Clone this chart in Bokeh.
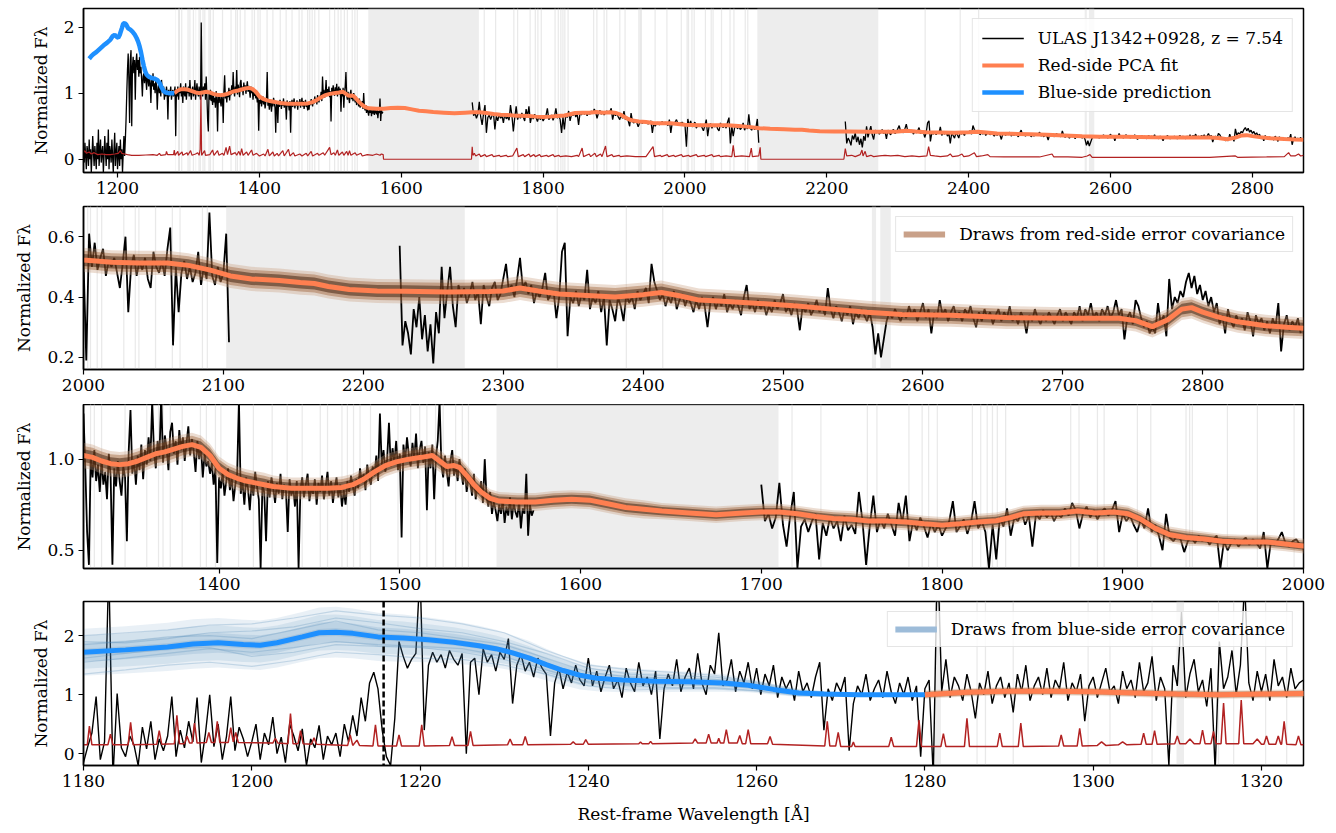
import numpy as np
from bokeh.plotting import figure
from bokeh.layouts import column
from bokeh.models import Range1d, FixedTicker, PrintfTickFormatter, Legend, LegendItem, Span
from bokeh.embed import file_html
from bokeh.resources import INLINE

# ----------------------------------------------------------------- data
# overview spectrum blueward of 1325 A as seen in the top panel (1 A bins)
ov_start, ov_step = 1152.0, 1.0
ov_flux = [
    0.1, -0.05, 0.25, 0.05, -0.15, 0.2, 0.1, -0.1, 0.3, 0.0,
    0.15, -0.2, 0.05, 0.35, 0.1, -0.1, 0.2, 0.05, -0.15, 0.25,
    0.0, 0.45, -0.1, 0.15, 0.3, -0.05, 0.1, 0.2, -0.2, 0.05,
    0.35, 0.1, -0.1, 0.25, 0.0, 0.45, -0.15, 0.2, 0.1, -0.05,
    0.3, 0.05, -0.2, 0.15, 0.4, -0.1, 0.1, 0.25, -0.15, 0.05,
    0.2, -0.1, 0.3, 0.0, 0.15, -0.2, 0.1, 0.35, 0.05, 0.3,
    0.6, 1.0, 1.35, 1.6, 1.2, 0.55, 1.5, 1.65, 0.5, 1.4, 1.55, 1.3, 1.5, 0.9, 1.45, 1.6,
    1.35, 1.5, 1.25, 1.55, 1.3, 1.4, 1.2, 0.95,
    1.25, 1.3, 1.15, 1.35, 1.2, 1.05, 1.3, 1.2, 1.1, 1.25, 1.15, 0.85, 1.2, 1.1, 1.3, 1.05,
    1.15, 1.0, 1.2, 1.1, 0.75, 1.05, 1.15, 1.0, 1.1, 0.95, 1.2, 1.05, 1.0, 1.1, 0.9, 1.05,
    0.95, 1.1, 1.0, 0.6, 1.05, 0.95, 1.0, 1.1, 0.9, 1.0, 1.05, 0.95,
    1.0, 1.1, 0.35, 1.05, 0.95, 1.1, 0.9, 1.05, 1.0, 1.15, 0.95, 1.05, 0.85, 1.1, 1.0, 0.95,
    1.15, 0.9, 1.05, 1.0, 1.1, 0.95, 1.2, 1.0, 0.9, 1.05, 1.1, 0.95, 1.0, 1.2, 0.9, 1.05,
    1.15, 1.0, 0.95, 1.1, 1.0, 0.9, 2.07, 1.05, 0.95, 1.1, 1.0, 1.15, 0.9]

# native-resolution spectrum 1180-1325 A (bottom panel)
seg2_start, seg2_step = 1180.0, 0.5
seg2_flux = [
    -0.15, 0.12, 0.35, 0.97, -0.1, 0.2, 3.2, -0.4, 1.02, 0.1, -0.05, 0.3, 0.15, -0.2, 0.45, 0.08, 0.55, -0.1, 0.25, 0.05,
    0.3, 0.97, -0.05, 0.4, 0.1, 0.55, 0.2, 0.95, -0.15, 0.35, 1.0, 0.12, 0.5, -0.1, 0.3, 0.97, 0.05, 0.45, 0.25, -0.05,
    0.2, 0.5, -0.1, 0.35, 0.15, 0.62, 0.0, 0.28, -0.15, 0.5, 0.3, 0.05, 0.42, -0.2, 0.25, 0.1, 0.48, -0.1, 0.3, 0.15,
    0.35, -0.05, 0.5, 0.2, 0.65, 0.3, 0.95, 0.55, 1.2, 1.38, 1.1, 0.4, -0.05, -0.2, 0.6, 1.9, 1.65, 1.45, 1.6, 1.7,
    3.1, 0.4, 1.5, 1.72, 1.55, 1.68, 1.45, 1.75, 1.6, 1.5, 1.7, 0.0, 1.55, 1.62, 1.0, 1.78, 1.55, 1.68, 1.4, 1.72,
    1.6, 1.95, 0.85, 1.5, 1.68, 1.4, 1.55, 1.3, 1.62, 1.45, 1.35, 0.3, 1.2, 1.45, 1.1, 1.38, 1.2, 1.5, 1.25, 1.15,
    1.62, 1.15, 1.4, 1.05, 1.3, 1.5, 1.1, 1.25, 0.95, 1.45, 1.2, 1.05, 1.55, 1.15, 1.3, 1.0, 1.4, 0.25, 1.1, 1.35,
    1.15, 1.6, 1.05, 1.3, 1.45, 1.1, 1.7, 1.2, 1.0, 1.5, 1.35, 2.05, 1.15, 1.25, 1.6, 1.05, 1.4, 1.2, 1.55, 1.1,
    1.45, 1.0, 1.35, 1.15, 1.5, 0.95, 1.3, 1.1, 1.25, 0.9, 1.4, 1.05, 1.2, 0.95, 1.3, 1.55, 0.4, 1.1, 0.9, 1.2,
    1.05, 1.3, 0.05, 0.85, 1.15, 1.0, 1.35, 0.9, 1.1, 1.25, 0.95, 1.4, 1.05, 0.85, 1.2, 1.0, 1.3, 0.9, 1.15, -0.05,
    1.1, 1.25, -0.4, 3.5, 1.05, 1.6, 0.95, 1.3, 1.15, 0.9, 1.35, 1.05, 0.6, 1.2, 1.0, 1.4, 0.85, 1.15, 1.3, 0.95,
    1.2, 0.7, 1.35, 1.05, 1.5, 0.9, 1.15, 1.3, 1.0, 1.45, 0.95, 1.25, 1.1, 1.55, 0.9, 1.2, 1.05, 1.35, 0.55, 1.15,
    1.3, 0.95, 1.2, 1.45, 1.05, 1.15, 0.85, 1.4, 1.1, 1.25, 0.95, 1.55, 1.05, 1.2, 1.65, 0.9, 1.3, 1.1, -0.2, 1.5,
    1.15, 2.4, 0.95, 1.35, 1.6, 1.05, 1.25, 0.8, 1.45, -0.3, 1.9, 1.1, 1.3, 1.75, 1.0, 1.5, 2.9, 1.2, 0.9, 1.4,
    1.05, 1.35, 0.9, 1.6, 1.15, 1.3, 0.95, 1.45, 1.1, 1.2]

seg3_start, seg3_step = 1325.0, 1.0
seg3_flux = [
    1.25, 0.95, 0.6, 0.42, 1.02, 0.9, 1.05, 0.88, 0.97, 0.82,
    1.0, 0.86, 0.93, 0.78, 1.03, 0.91, 0.42, 0.95, 0.85, 0.99,
    0.88, 0.8, 0.96, 0.9, 0.55, 1.04, 1.27, 0.92, 1.0, 0.86,
    1.02, 0.94, 1.08, 0.89, 1.05, 0.97, 1.12, 0.99, 1.32, 1.04,
    0.95, 1.1, 1.01, 1.35, 0.98, 1.13, 1.06, 0.94, 1.15, 1.2,
    1.03, 1.1, 0.97, 1.16, 1.05, 1.12, 0.99, 1.09, 1.18, 1.02,
    1.11, 1.04, 0.93, 1.1, 1.0, 1.07, 0.9, 1.03, 0.96, 0.99,
    0.92, 0.98, 0.86, 0.95, 0.43, 0.9, 0.84, 0.93, 0.8, 0.88,
    0.95, 0.83, 0.9, 0.77, 0.86, 0.92, 1.32, 0.81, 0.88, 0.75,
    0.9, 0.84, 0.72, 0.87, 0.8, 0.93, 0.85, 0.78, 0.4, 0.86,
    0.82, 0.55, 0.88, 0.79, 0.9, 0.84, 0.76, 0.87, 0.81, 0.92,
    0.78, 0.86, 0.83, 0.6, 0.89, 0.8, 0.85, 0.74, 0.88, 0.4,
    0.83, 0.9, 0.79, 0.86, 0.92, 0.77, 0.84, 0.81, 0.89, 0.75,
    0.87, 0.82, 0.91, 0.78, 0.85, 0.93, 0.8, 0.88, 0.76, 0.84,
    0.9, 0.79, 0.86, 0.74, 0.83, 0.75, 0.88, 0.82, 0.91, 0.85,
    0.8, 0.89, 0.84, 0.95, 0.87, 0.92, 0.83, 0.97, 0.9, 0.86,
    0.96, 0.91, 1.02, 0.88, 1.25, 0.97, 1.05, 0.93, 1.0, 1.2,
    0.96, 1.06, 0.98, 1.1, 0.94, 1.03, 0.57, 1.08, 0.99, 1.12,
    1.02, 0.96, 1.09, 1.0, 1.14, 0.95, 1.05, 1.1, 0.98, 1.07,
    0.72, 1.04, 0.95, 1.08, 0.78, 1.01, 1.1, 1.32, 0.97, 0.9,
    1.02, 0.93, 0.85, 0.99, 1.05, 0.91, 0.97, 0.88, 1.0, 0.93,
    0.86, 0.95, 0.82, 0.9, 0.87, 0.8, 0.92, 0.78, 0.85, 0.81,
    0.88, 0.76, 1.0, 0.79, 0.74, 0.82, 0.7, 0.77, 0.72, 0.66,
    0.75, 0.7, 0.78, 0.65, 0.74, 0.69, 0.79, 0.67, 0.76, 0.71,
    0.68, 0.77, 0.62, 0.73, 0.7, 0.92, 0.58, 0.75, 0.69, 0.72]

seg4_start, seg4_step = 1700.0, 2.0
seg4_flux = [
    0.86, 0.66, 0.7, 0.62, 0.68, 0.87, 0.64, 0.52, 0.69, 0.82,
    0.4, 0.63, 0.67, 0.6, 0.66, 0.7, 0.45, 0.65, 0.58, 0.68,
    0.62, 0.66, 0.55, 0.69, 0.61, 0.64, 0.59, 0.82, 0.66, 0.42,
    0.63, 0.8, 0.6, 0.67, 0.62, 0.7, 0.64, 0.58, 0.76, 0.65,
    0.8, 0.55, 0.66, 0.61, 0.68, 0.63, 0.57, 0.65, 0.6, 0.64,
    0.58, 0.62, 0.66, 0.77, 0.6, 0.63, 0.67, 0.59, 0.65, 0.77,
    0.62, 0.66, 0.6, 0.4, 0.64, 0.45, 0.68, 0.63, 0.73, 0.58,
    0.68, 0.66, 0.71, 0.64, 0.69, 0.52, 0.7, 0.67, 0.72, 0.68,
    0.71, 0.66, 0.7, 0.68, 0.73, 0.69, 0.76, 0.72, 0.62, 0.7,
    0.74, 0.68, 0.72, 0.67, 0.71, 0.73, 0.69, 0.72, 0.77, 0.6,
    0.7, 0.66, 0.69, 0.64, 0.6, 0.67, 0.62, 0.73, 0.6, 0.64,
    0.58, 0.5, 0.7, 0.57, 0.55, 0.58, 0.56, 0.49, 0.55, 0.57,
    0.54, 0.58, 0.55, 0.57, 0.53, 0.56, 0.58, 0.4, 0.55, 0.5,
    0.54, 0.56, 0.52, 0.55, 0.57, 0.53, 0.56, 0.54, 0.51, 0.6,
    0.4, 0.55, 0.53, 0.56, 0.6, 0.54, 0.52, 0.55, 0.56, 0.53,
    0.52, 0.19, 0.61, 0.5, 0.58, 0.49, 0.53, 0.56, 0.47, 0.52,
    0.5, 0.53, 0.48, 0.43, 0.51, 0.6, 0.35, 0.5, 0.54, 0.47,
    0.52, 0.49, 0.53, 0.46, 0.43, 0.55, 0.5, 0.48, 0.52, 0.47,
    0.56, 0.63, 0.24, 0.5, 0.35, 0.48, 0.52, 0.46, 0.5, 0.45,
    0.48, 0.55, 0.44, 0.5, 0.46, 0.68, 0.47, 0.44, 0.5, 0.45,
    0.48, 0.61, 0.25]

seg5_start, seg5_step = 2226.0, 2.0
seg5_flux = [
    0.57, 0.24, 0.32, 0.28, 0.21, 0.36, 0.3, 0.4, 0.26, 0.34,
    0.22, 0.31, 0.18, 0.35, 0.28, 0.5, 0.33, 0.42, 0.5, 0.37,
    0.3, 0.44, 0.4, 0.43, 0.38, 0.41, 0.45, 0.39, 0.42, 0.31,
    0.44, 0.4, 0.37, 0.43, 0.45, 0.39, 0.41, 0.46, 0.51, 0.42,
    0.44, 0.4, 0.46, 0.53, 0.43, 0.45, 0.41, 0.44, 0.38, 0.42,
    0.4, 0.43, 0.48, 0.39, 0.41, 0.42, 0.33, 0.4, 0.55, 0.58,
    0.27, 0.4, 0.38, 0.42, 0.37, 0.41, 0.39, 0.49, 0.36, 0.4,
    0.38, 0.42, 0.35, 0.4, 0.24, 0.39, 0.36, 0.32, 0.4, 0.37,
    0.32, 0.41, 0.38, 0.4, 0.36, 0.42, 0.39, 0.41, 0.43, 0.38,
    0.51, 0.45, 0.42, 0.39, 0.41, 0.37, 0.4, 0.38, 0.42, 0.36,
    0.39, 0.41, 0.37, 0.4, 0.38, 0.35, 0.39, 0.36, 0.4, 0.37,
    0.3, 0.38, 0.4, 0.36, 0.39, 0.37, 0.41, 0.35, 0.38, 0.36,
    0.39, 0.37, 0.34, 0.4, 0.44, 0.36, 0.38, 0.35, 0.39, 0.36,
    0.38, 0.34, 0.37, 0.35, 0.39, 0.36, 0.38, 0.41, 0.35, 0.37,
    0.34, 0.38, 0.36, 0.29, 0.37, 0.35, 0.38, 0.34, 0.36, 0.39,
    0.35, 0.37, 0.34, 0.43, 0.36, 0.33, 0.37, 0.35, 0.32, 0.36,
    0.34, 0.37, 0.31, 0.35, 0.33, 0.36, 0.34, 0.32, 0.35, 0.3,
    0.21, 0.28, 0.2, 0.26, 0.32, 0.35, 0.33, 0.36, 0.34, 0.32,
    0.35, 0.33, 0.37, 0.34, 0.36, 0.32, 0.35, 0.38, 0.33, 0.36,
    0.28, 0.35, 0.33, 0.39, 0.34, 0.36, 0.32, 0.35, 0.37, 0.33,
    0.35, 0.32, 0.36, 0.34, 0.37, 0.33, 0.3, 0.35, 0.32, 0.36,
    0.33, 0.35, 0.31, 0.34, 0.36, 0.32, 0.35, 0.33, 0.37, 0.32,
    0.34, 0.31, 0.35, 0.33, 0.28, 0.34, 0.32, 0.36, 0.33, 0.31,
    0.34, 0.32, 0.35, 0.33, 0.31, 0.34, 0.36, 0.32, 0.35, 0.33,
    0.31, 0.35, 0.33, 0.37, 0.32, 0.36, 0.34, 0.38, 0.33, 0.35,
    0.32, 0.36, 0.34, 0.37, 0.33, 0.35, 0.39, 0.34, 0.36, 0.26,
    0.33, 0.35, 0.31, 0.39, 0.37, 0.33, 0.3, 0.32, 0.28, 0.3,
    0.28, 0.38, 0.31, 0.34, 0.27, 0.46, 0.36, 0.4, 0.38, 0.42,
    0.4, 0.45, 0.48, 0.43, 0.47, 0.41, 0.44, 0.39, 0.42, 0.37,
    0.4, 0.35, 0.38, 0.31, 0.34, 0.28, 0.36, 0.32, 0.3, 0.34,
    0.31, 0.33, 0.29, 0.35, 0.32, 0.27, 0.34, 0.31, 0.33, 0.29,
    0.32, 0.28, 0.33, 0.3, 0.38, 0.22, 0.31, 0.34, 0.29, 0.32,
    0.3, 0.33, 0.28]

# flux error (smoothed, full range; zero inside the spectral gaps)
err_wave = [1152, 1154, 1156, 1160, 1163, 1167, 1172, 1178, 1184, 1190, 1196, 1201, 1204, 1206, 1210, 1214,
            1220, 1230, 1240, 1250, 1256, 1259, 1261, 1268, 1269, 1270.5, 1279, 1280, 1281, 1285, 1286,
            1291, 1292, 1298, 1299, 1303, 1305, 1310, 1313, 1315, 1316.5, 1317.6, 1318.5, 1322.7, 1324,
            1330, 1334, 1336, 1341, 1343, 1348, 1350, 1353, 1355, 1358, 1360, 1366, 1368, 1371, 1373, 1375,
            1377, 1382, 1384, 1389, 1391, 1396, 1400, 1406, 1408, 1412, 1414, 1419, 1421, 1425, 1427, 1433,
            1435, 1441, 1443, 1448, 1450, 1457, 1460, 1466, 1468, 1473, 1475, 1482, 1484, 1490, 1492, 1499,
            1501, 1505, 1507, 1510, 1512, 1517, 1519, 1523, 1525, 1527, 1529, 1535, 1537, 1543, 1545, 1552,
            1560, 1565, 1570, 1572, 1574.5, 1575, 1699, 1700, 1701, 1703, 1705, 1710, 1712, 1718, 1720, 1728,
            1730, 1738, 1740, 1748, 1750, 1757, 1763, 1765, 1772, 1774, 1780, 1782, 1787, 1789, 1795, 1797,
            1805, 1807, 1814, 1816, 1822, 1824, 1832, 1840, 1848, 1850, 1855, 1857, 1865, 1867, 1873, 1875,
            1881, 1883, 1888, 1890, 1897, 1899, 1907, 1909, 1918, 1930, 1945, 1955, 1957, 1965, 1967, 1975,
            1977, 1984, 1986, 1995, 1997, 2005, 2007, 2016, 2018, 2027, 2029, 2038, 2040, 2048, 2050, 2058,
            2066, 2068, 2070, 2080, 2091, 2093.5, 2095, 2104, 2106, 2107, 2224, 2226, 2228, 2235, 2240, 2247,
            2249.5, 2251, 2254, 2256, 2262, 2266, 2274, 2282, 2290, 2300, 2310, 2320, 2330, 2341, 2343.5,
            2346, 2352, 2360, 2370, 2374, 2377, 2385, 2390.5, 2393, 2400, 2408, 2411, 2418, 2427, 2430, 2450,
            2480, 2500, 2517.5, 2520, 2540, 2560, 2567, 2571, 2574, 2600, 2650, 2700, 2740, 2776, 2779, 2820,
            2845, 2851, 2854, 2860, 2865, 2868, 2872]
err_flux = [0.10, 0.13, 0.09, 0.11, 0.08, 0.10, 0.07, 0.08, 0.07, 0.07, 0.08, 0.09, 0.13, 0.09, 0.08, 0.07,
            0.06, 0.06, 0.065, 0.07, 0.06, 0.09, 0.06, 0.07, 0.12, 0.07, 0.07, 0.14, 0.06, 0.12, 0.06,
            0.11, 0.06, 0.10, 0.06, 0.13, 0.06, 0.08, 0.10, 0.06, 0.15, 0.97, 0.06, 0.13, 0.06,
            0.07, 0.14, 0.06, 0.13, 0.06, 0.09, 0.06, 0.18, 0.07, 0.20, 0.07, 0.10, 0.06, 0.12, 0.06, 0.16,
            0.06, 0.11, 0.06, 0.14, 0.06, 0.09, 0.05, 0.08, 0.05, 0.15, 0.05, 0.11, 0.05, 0.09, 0.05, 0.13,
            0.05, 0.15, 0.05, 0.10, 0.05, 0.08, 0.05, 0.09, 0.05, 0.12, 0.05, 0.09, 0.06, 0.10, 0.06, 0.18,
            0.07, 0.10, 0.06, 0.14, 0.06, 0.11, 0.06, 0.12, 0.06, 0.13, 0.06, 0.10, 0.06, 0.09, 0.05, 0.07,
            0.06, 0.08, 0.06, 0.08, 0.07, 0.0, 0.0, 0.19, 0.06, 0.09, 0.05, 0.08, 0.04, 0.07, 0.04, 0.07,
            0.04, 0.06, 0.04, 0.06, 0.04, 0.05, 0.17, 0.04, 0.07, 0.04, 0.08, 0.04, 0.07, 0.04, 0.07, 0.04,
            0.06, 0.04, 0.07, 0.04, 0.06, 0.04, 0.05, 0.04, 0.06, 0.04, 0.17, 0.04, 0.08, 0.04, 0.09, 0.04,
            0.08, 0.04, 0.20, 0.04, 0.07, 0.04, 0.06, 0.04, 0.05, 0.04, 0.04, 0.19, 0.04, 0.06, 0.04, 0.07,
            0.04, 0.06, 0.04, 0.07, 0.04, 0.06, 0.04, 0.07, 0.04, 0.06, 0.04, 0.07, 0.04, 0.06, 0.04, 0.05,
            0.04, 0.21, 0.04, 0.05, 0.04, 0.17, 0.04, 0.05, 0.18, 0.0, 0.0, 0.16, 0.05, 0.06, 0.04, 0.07,
            0.14, 0.05, 0.12, 0.04, 0.06, 0.04, 0.05, 0.06, 0.05, 0.06, 0.04, 0.05, 0.04, 0.05, 0.19,
            0.06, 0.05, 0.04, 0.05, 0.08, 0.04, 0.05, 0.08, 0.04, 0.05, 0.10, 0.04, 0.05, 0.07, 0.04, 0.035,
            0.035, 0.035, 0.08, 0.035, 0.035, 0.03, 0.05, 0.07, 0.03, 0.03, 0.03, 0.03, 0.03, 0.05, 0.03, 0.035,
            0.04, 0.10, 0.05, 0.05, 0.08, 0.05, 0.06]

# flux error at native resolution (bottom zoom panel)
err4_wave = [1180, 1180.45, 1180.7, 1181.0, 1182.9, 1183.2, 1183.5, 1185.3, 1185.6, 1185.9, 1188.7, 1189.0,
             1189.3, 1190.8, 1191.1, 1191.4, 1192.0, 1192.3, 1192.6, 1192.9, 1193.2, 1193.5, 1194.6, 1194.9,
             1195.2, 1195.6, 1195.9, 1196.2, 1197.2, 1197.5, 1197.8, 1198.1, 1198.4, 1202.5, 1202.8, 1203.1,
             1204.3, 1204.6, 1204.9, 1205.5, 1205.8, 1206.1, 1207.1, 1207.4, 1207.7, 1211.4, 1211.7, 1212.0,
             1212.5, 1212.8, 1214.4, 1214.7, 1215.0, 1217.2, 1217.5, 1217.8, 1219.9, 1220.2, 1220.5, 1223.5,
             1223.8, 1224.1, 1225.7, 1226.0, 1226.3, 1230.4, 1230.7, 1231.0, 1232.2, 1232.5, 1232.8, 1237.9,
             1238.2, 1238.5, 1239.4, 1239.7, 1240.0, 1246.0, 1246.2, 1246.4, 1247.2, 1247.4, 1247.6, 1252.4,
             1252.7, 1253.0, 1254.0, 1254.3, 1254.6, 1255.3, 1255.5, 1255.7, 1256.1, 1256.4, 1256.7, 1257.7,
             1258.0, 1258.3, 1258.7, 1259.0, 1259.3, 1261.3, 1261.6, 1261.9, 1268.1, 1268.4, 1268.7, 1269.4,
             1269.7, 1270.0, 1271.3, 1271.5, 1271.7, 1275.7, 1276.0, 1276.3, 1279.0, 1279.3, 1279.6, 1281.9,
             1282.2, 1282.5, 1284.7, 1285.0, 1285.3, 1288.6, 1288.9, 1289.2, 1291.1, 1291.4, 1291.7, 1295.9,
             1296.2, 1296.5, 1298.1, 1298.4, 1298.7, 1300.5, 1301.0, 1301.5, 1303.0, 1303.5, 1304.0, 1305.7,
             1306.0, 1306.3, 1307.0, 1307.3, 1307.6, 1309.7, 1310.0, 1310.3, 1311.0, 1311.5, 1312.0, 1312.7,
             1313.0, 1313.3, 1314.0, 1314.3, 1314.6, 1315.2, 1315.5, 1315.8, 1317.3, 1317.6, 1317.9, 1319.0,
             1319.5, 1320.0, 1320.3, 1320.6, 1320.9, 1321.7, 1322.0, 1322.3, 1322.4, 1322.7, 1323.0, 1324.1,
             1324.4, 1324.7, 1325.0]
err4_flux = [0.15, 0.15, 0.47, 0.15, 0.15, 0.33, 0.15, 0.15, 0.53, 0.15, 0.16, 0.39,
             0.16, 0.17, 0.65, 0.17, 0.17, 0.30, 0.18, 0.18, 0.52, 0.18, 0.19, 0.36,
             0.19, 0.19, 0.55, 0.19, 0.19, 0.44, 0.20, 0.36, 0.19, 0.18, 0.26, 0.18,
             0.17, 0.68, 0.17, 0.17, 0.39, 0.17, 0.16, 0.27, 0.16, 0.14, 0.32, 0.14,
             0.23, 0.14, 0.13, 0.49, 0.13, 0.13, 0.32, 0.13, 0.13, 0.49, 0.13, 0.14,
             0.29, 0.14, 0.14, 0.38, 0.14, 0.15, 0.25, 0.15, 0.15, 0.29, 0.15, 0.16,
             0.20, 0.16, 0.16, 0.24, 0.16, 0.17, 0.20, 0.17, 0.17, 0.21, 0.17, 0.18,
             0.25, 0.18, 0.18, 0.33, 0.18, 0.18, 0.26, 0.18, 0.18, 0.41, 0.18, 0.18,
             0.31, 0.17, 0.17, 0.41, 0.17, 0.17, 0.29, 0.16, 0.13, 0.55, 0.13, 0.13,
             0.36, 0.12, 0.12, 0.20, 0.12, 0.12, 0.28, 0.12, 0.12, 0.57, 0.12, 0.12,
             0.34, 0.12, 0.12, 0.60, 0.12, 0.12, 0.35, 0.12, 0.12, 0.52, 0.12, 0.13,
             0.32, 0.13, 0.13, 0.43, 0.13, 0.14, 0.20, 0.14, 0.15, 0.20, 0.15, 0.16,
             0.35, 0.16, 0.16, 0.39, 0.16, 0.17, 0.30, 0.17, 0.17, 0.25, 0.17, 0.17,
             0.40, 0.17, 0.17, 0.38, 0.17, 0.17, 0.86, 0.17, 0.17, 0.91, 0.17, 0.17,
             0.25, 0.16, 0.16, 0.30, 0.16, 0.16, 0.30, 0.16, 0.16, 0.55, 0.16, 0.15,
             0.30, 0.15, 0.15]

# red-side PCA fit and half-width of its error-covariance draws
fit_wave = [1280, 1285, 1290, 1295, 1300, 1305, 1310, 1315, 1320, 1325,
            1330, 1335, 1340, 1345, 1350, 1355, 1360, 1365, 1370, 1375,
            1380, 1385, 1390, 1395, 1400, 1405, 1410, 1415, 1420, 1425,
            1430, 1440, 1450, 1460, 1468, 1474, 1480, 1486, 1492, 1498,
            1505, 1512, 1518, 1522, 1526, 1530, 1533, 1537, 1541, 1545,
            1550, 1555, 1565, 1575, 1585, 1595, 1605, 1615, 1625, 1635,
            1645, 1660, 1675, 1690, 1700, 1710, 1720, 1730, 1740, 1750,
            1760, 1770, 1780, 1790, 1800, 1810, 1820, 1830, 1838, 1845,
            1855, 1865, 1875, 1885, 1895, 1903, 1910, 1918, 1926, 1935,
            1945, 1955, 1965, 1980, 1990, 2000, 2020, 2040, 2060, 2075,
            2090, 2105, 2120, 2140, 2155, 2165, 2175, 2190, 2210, 2230,
            2260, 2290, 2300, 2312, 2325, 2340, 2360, 2380, 2400, 2413,
            2425, 2440, 2460, 2487, 2510, 2535, 2560, 2585, 2620, 2660,
            2700, 2740, 2752, 2764, 2775, 2785, 2792, 2800, 2810, 2825,
            2845, 2860, 2872]
fit_flux = [1.00, 1.04, 1.06, 1.06, 1.05, 1.03, 1.01, 1.00, 1.01, 1.02,
            1.01, 0.99, 0.975, 0.97, 0.975, 0.99, 1.01, 1.03, 1.04, 1.055,
            1.07, 1.08, 1.065, 1.02, 0.95, 0.915, 0.895, 0.88, 0.87, 0.86,
            0.85, 0.84, 0.84, 0.84, 0.845, 0.86, 0.89, 0.93, 0.965, 0.985,
            1.00, 1.01, 1.02, 0.99, 0.96, 0.965, 0.955, 0.91, 0.86, 0.82,
            0.785, 0.77, 0.765, 0.765, 0.775, 0.78, 0.775, 0.755, 0.735, 0.725,
            0.715, 0.705, 0.695, 0.705, 0.71, 0.71, 0.70, 0.685, 0.675, 0.67,
            0.66, 0.66, 0.655, 0.645, 0.638, 0.645, 0.655, 0.662, 0.68, 0.70,
            0.705, 0.705, 0.715, 0.705, 0.71, 0.70, 0.67, 0.62, 0.585, 0.57,
            0.562, 0.55, 0.545, 0.545, 0.535, 0.523, 0.515, 0.513, 0.513, 0.505,
            0.49, 0.47, 0.46, 0.455, 0.448, 0.445, 0.435, 0.425, 0.42, 0.419,
            0.417, 0.418, 0.42, 0.43, 0.42, 0.41, 0.405, 0.40, 0.408, 0.415,
            0.405, 0.39, 0.385, 0.378, 0.37, 0.36, 0.35, 0.342, 0.34, 0.332,
            0.33, 0.33, 0.322, 0.302, 0.325, 0.36, 0.365, 0.35, 0.335, 0.318,
            0.305, 0.30, 0.297]
fit_spread = [0.07, 0.07, 0.07, 0.07, 0.07, 0.07, 0.07, 0.07, 0.07, 0.07,
              0.07, 0.07, 0.07, 0.07, 0.07, 0.07, 0.07, 0.07, 0.07, 0.07,
              0.065, 0.065, 0.065, 0.065, 0.065, 0.065, 0.065, 0.065, 0.065, 0.065,
              0.06, 0.06, 0.06, 0.06, 0.06, 0.06, 0.06, 0.06, 0.06, 0.06,
              0.06, 0.06, 0.06, 0.06, 0.06, 0.06, 0.06, 0.06, 0.06, 0.06,
              0.05, 0.05, 0.05, 0.05, 0.05, 0.05, 0.05, 0.05, 0.05, 0.05,
              0.045, 0.045, 0.045, 0.045, 0.045, 0.045, 0.045, 0.045, 0.045, 0.045,
              0.045, 0.045, 0.045, 0.045, 0.045, 0.045, 0.045, 0.045, 0.045, 0.045,
              0.045, 0.045, 0.045, 0.045, 0.045, 0.045, 0.045, 0.045, 0.045, 0.045,
              0.04, 0.04, 0.04, 0.04, 0.04, 0.04, 0.04, 0.04, 0.04, 0.04,
              0.04, 0.04, 0.04, 0.04, 0.04, 0.04, 0.04, 0.04, 0.04, 0.04,
              0.04, 0.04, 0.04, 0.04, 0.04, 0.04, 0.04, 0.04, 0.04, 0.04,
              0.038, 0.038, 0.038, 0.038, 0.038, 0.038, 0.038, 0.038, 0.038, 0.038,
              0.036, 0.036, 0.036, 0.036, 0.036, 0.036, 0.036, 0.036, 0.036, 0.036,
              0.036, 0.036, 0.036]

# blue-side prediction and half-width of its error-covariance draws
blue_wave = [1160, 1163, 1166, 1170, 1175, 1180, 1185, 1190, 1193, 1196, 1199, 1201, 1203, 1206,
             1208, 1210, 1212, 1215, 1218, 1221, 1224, 1227, 1229, 1231, 1233, 1235, 1237, 1239,
             1241, 1244, 1248, 1252, 1256, 1259, 1262, 1265, 1268, 1272, 1276, 1280]
blue_flux = [1.52, 1.56, 1.59, 1.62, 1.67, 1.72, 1.76, 1.81, 1.86, 1.88, 1.85, 1.84, 1.88, 1.98,
             2.05, 2.06, 2.04, 1.98, 1.96, 1.93, 1.89, 1.83, 1.78, 1.71, 1.62, 1.51, 1.41, 1.33,
             1.28, 1.25, 1.23, 1.22, 1.20, 1.16, 1.09, 1.03, 1.01, 1.00, 1.00, 1.00]
blue_spread = [0.40, 0.40, 0.40, 0.40, 0.40, 0.40, 0.40, 0.41, 0.42, 0.42, 0.42, 0.42, 0.42, 0.42,
               0.43, 0.43, 0.42, 0.41, 0.40, 0.38, 0.36, 0.34, 0.32, 0.30, 0.29, 0.27, 0.25, 0.24,
               0.22, 0.21, 0.19, 0.17, 0.15, 0.12, 0.09, 0.07, 0.05, 0.03, 0.015, 0.005]

# individual blue-side draws (every 5 A)
draw_wave = [1180, 1185, 1190, 1195, 1200, 1205, 1210, 1215, 1220, 1225, 1230,
             1235, 1240, 1245, 1250, 1255, 1260, 1265, 1270, 1275, 1280]
blue_draws = [
    [2.00, 2.05, 2.10, 2.18, 2.20, 2.30, 2.42, 2.35, 2.30, 2.20, 2.05, 1.75, 1.50, 1.42, 1.38, 1.33, 1.22, 1.08, 1.03, 1.01, 1.00],
    [1.35, 1.42, 1.50, 1.55, 1.48, 1.58, 1.72, 1.68, 1.62, 1.60, 1.50, 1.35, 1.15, 1.08, 1.10, 1.10, 1.06, 0.98, 0.98, 0.99, 1.00],
    [1.85, 1.90, 1.98, 2.00, 1.95, 2.10, 2.25, 2.10, 2.05, 1.95, 1.85, 1.62, 1.38, 1.30, 1.28, 1.26, 1.18, 1.05, 1.02, 1.00, 1.00],
    [1.55, 1.62, 1.70, 1.78, 1.72, 1.80, 1.90, 1.85, 1.82, 1.78, 1.65, 1.42, 1.22, 1.18, 1.17, 1.16, 1.10, 1.01, 0.99, 1.00, 1.00],
    [1.90, 1.88, 1.95, 2.05, 2.08, 2.15, 2.30, 2.22, 2.12, 2.05, 1.90, 1.70, 1.45, 1.35, 1.32, 1.30, 1.20, 1.06, 1.02, 1.00, 1.00],
    [1.62, 1.70, 1.78, 1.80, 1.65, 1.72, 1.85, 1.82, 1.80, 1.72, 1.60, 1.38, 1.20, 1.15, 1.12, 1.12, 1.07, 1.00, 0.99, 1.00, 1.00],
]

# masked pixels (thin lines) and masked regions
mask_lines = [1286.2, 1287.2, 1290.5, 1299.4, 1302.0, 1307.0, 1314.9, 1316.7, 1320.5, 1323.0,
              1328.9, 1331.0, 1335.0, 1348.0, 1360.0, 1366.5, 1369.0, 1373.0, 1379.6, 1389.7, 1393.0,
              1398.0, 1401.0, 1410.8, 1419.0, 1429.4, 1437.7, 1446.0, 1456.0, 1460.0, 1468.0, 1471.0,
              1474.4, 1478.0, 1483.8, 1499.0, 1506.0, 1511.0, 1515.0, 1519.8, 1524.0, 1530.9, 1534.6,
              1538.0, 1717.0, 1733.0, 1758.7, 1764.0, 1781.7, 1789.0, 1792.6, 1797.4, 1816.8, 1821.4,
              1825.0, 1827.9, 1830.6, 1835.2, 1871.2, 1875.8, 1886.0, 1889.7, 1908.1, 1915.5, 1935.0,
              1937.0, 1938.5, 1957.9, 1974.5, 1994.8, 2003.0, 2005.0, 2009.8, 2013.0, 2028.8, 2037.0,
              2039.6, 2051.5, 2063.5, 2069.0, 2085.0, 2088.5, 2338.6, 2388.0, 2414.0]
mask_left = [1281.2, 1309.9, 1553.5, 2102.0, 2563.5, 2569.5]
mask_right = [1281.9, 1310.8, 1709.5, 2272.5, 2566.5, 2577.0]

lya_wave = 1215.67

# ----------------------------------------------------------------- styling
FONT = "DejaVu Serif"
FS = "17px"
ORANGE = "#ff7f50"
BLUE = "#1e90ff"
RED = "#b22222"


def seg(start, step, flux):
    return start + step * np.arange(len(flux)), np.array(flux)


wo, fo = seg(ov_start, ov_step, ov_flux)
w2, f2 = seg(seg2_start, seg2_step, seg2_flux)
w3, f3 = seg(seg3_start, seg3_step, seg3_flux)
w4, f4 = seg(seg4_start, seg4_step, seg4_flux)
w5, f5 = seg(seg5_start, seg5_step, seg5_flux)
overview_segments = [(np.concatenate([wo, w3]), np.concatenate([fo, f3])), (w4, f4), (w5, f5)]
detail_segments = [(np.concatenate([w2, w3]), np.concatenate([f2, f3])), (w4, f4), (w5, f5)]


def make_fig(x0, x1, y0, y1, xticks, yticks, yfmt, fh, top, bottom, xlabel=None):
    p = figure(frame_width=1220, frame_height=fh, x_range=Range1d(x0, x1), y_range=Range1d(y0, y1),
               output_backend="svg", toolbar_location=None, title=None,
               min_border_left=83, min_border_right=33, min_border_top=top, min_border_bottom=bottom)
    p.xgrid.visible = False
    p.ygrid.visible = False
    p.outline_line_color = "black"
    p.outline_line_width = 1.5
    p.outline_line_alpha = 1.0
    p.background_fill_color = "white"
    p.border_fill_color = "white"
    p.xaxis.ticker = FixedTicker(ticks=xticks)
    p.yaxis.ticker = FixedTicker(ticks=yticks)
    p.xaxis.formatter = PrintfTickFormatter(format="%d")
    p.yaxis.formatter = PrintfTickFormatter(format=yfmt)
    for ax in (p.xaxis[0], p.yaxis[0]):
        ax.axis_line_width = 1.5
        ax.axis_line_color = "black"
        ax.major_tick_line_width = 1.2
        ax.major_tick_line_color = "black"
        ax.major_tick_out = 5
        ax.major_tick_in = 0
        ax.minor_tick_out = 0
        ax.minor_tick_in = 0
        ax.major_label_text_font = FONT
        ax.major_label_text_font_size = FS
        ax.major_label_text_color = "black"
        ax.major_label_standoff = 4
        ax.axis_label_text_font = FONT
        ax.axis_label_text_font_size = FS
        ax.axis_label_text_font_style = "normal"
        ax.axis_label_text_color = "black"
    p.yaxis.axis_label = "Normalized F\u03bb"
    p.yaxis.axis_label_standoff = 10
    if xlabel:
        p.xaxis.axis_label = xlabel
        p.xaxis.axis_label_standoff = 14
    # masks
    p.quad(left=mask_left, right=mask_right, bottom=-100, top=100, fill_color="#d3d3d3",
           fill_alpha=0.42, line_color=None)
    p.segment(x0=mask_lines, y0=-100, x1=mask_lines, y1=100, line_color="#d3d3d3",
              line_alpha=0.5, line_width=1.2)
    return p


def add_spectrum(p, segments, lw):
    for w, f in segments:
        p.line(w, f, line_color="black", line_width=lw)


def red_band(p):
    fw = np.array(fit_wave)
    ff = np.array(fit_flux)
    sp = np.array(fit_spread)
    for k, col, a in [(1.0, "#c89f7f", 0.35), (0.75, "#8b4513", 0.35), (0.5, "#3b1a06", 0.5)]:
        p.varea(x=fw, y1=ff - k * sp, y2=ff + k * sp, fill_color=col, fill_alpha=a)


def legend_proxy(p, color, width):
    # off-frame line used only for the legend swatch
    return p.line(x=[-10.0, -9.0], y=[-100.0, -100.0], line_color=color, line_width=width)


def style_legend(leg, pad):
    leg.location = "top_right"
    leg.label_text_font = FONT
    leg.label_text_font_size = FS
    leg.label_text_color = "black"
    leg.glyph_width = 42
    leg.glyph_height = 20
    leg.label_height = 20
    leg.label_standoff = 14
    leg.spacing = 7
    leg.padding = pad
    leg.margin = 10
    leg.border_line_color = "#cccccc"
    leg.border_line_width = 1
    leg.background_fill_alpha = 0.8


# ---------------- panel 1: full spectrum
p1 = make_fig(1152, 2872, -0.2, 2.28, list(range(1200, 2801, 200)), [0, 1, 2], "%d", 164, 8, 33)
add_spectrum(p1, overview_segments, 1.3)
p1.line(err_wave, err_flux, line_color=RED, line_width=1.2)
r_fit1 = p1.line(fit_wave, fit_flux, line_color=ORANGE, line_width=4)
r_blue1 = p1.line(blue_wave, blue_flux, line_color=BLUE, line_width=4.5)
leg_black = legend_proxy(p1, "black", 1.5)
leg1 = Legend(items=[LegendItem(label="ULAS J1342+0928, z = 7.54", renderers=[leg_black]),
                     LegendItem(label="Red-side PCA fit", renderers=[r_fit1]),
                     LegendItem(label="Blue-side prediction", renderers=[r_blue1])])
style_legend(leg1, 9)
p1.add_layout(leg1)

# ---------------- panel 2: 2000-2870
p2 = make_fig(2000, 2872, 0.16, 0.7, list(range(2000, 2801, 100)), [0.2, 0.4, 0.6], "%.1f", 163, 1, 35)
add_spectrum(p2, detail_segments, 1.8)
red_band(p2)
p2.line(fit_wave, fit_flux, line_color=ORANGE, line_width=5)
leg_red = legend_proxy(p2, "#c9a189", 6)
leg2 = Legend(items=[LegendItem(label="Draws from red-side error covariance", renderers=[leg_red])])
style_legend(leg2, 7)
p2.add_layout(leg2)

# ---------------- panel 3: 1325-2000
p3 = make_fig(1325, 2000, 0.4, 1.3, list(range(1400, 2001, 100)), [0.5, 1.0], "%.1f", 164, 0, 32)
add_spectrum(p3, detail_segments, 1.8)
red_band(p3)
p3.line(fit_wave, fit_flux, line_color=ORANGE, line_width=5)

# ---------------- panel 4: 1180-1325
p4 = make_fig(1180, 1325, -0.2, 2.58, list(range(1180, 1321, 20)), [0, 1, 2], "%d", 164, 1, 68,
              xlabel="Rest-frame Wavelength [\u00c5]")
add_spectrum(p4, detail_segments, 1.4)
p4.line(err4_wave, err4_flux, line_color=RED, line_width=1.5)
bw = np.array(blue_wave)
bf = np.array(blue_flux)
bs = np.array(blue_spread)
for k, a in [(1.0, 0.12), (0.7, 0.13), (0.4, 0.15), (0.15, 0.18)]:
    p4.varea(x=bw, y1=bf - k * bs, y2=bf + k * bs, fill_color="#4682b4", fill_alpha=a)
for d in blue_draws:
    p4.line(draw_wave, d, line_color="#4682b4", line_alpha=0.25, line_width=1.2)
red_band(p4)
p4.add_layout(Span(location=lya_wave, dimension="height", line_color="black", line_width=2.5,
                   line_dash="6 3"))
p4.line(blue_wave, blue_flux, line_color=BLUE, line_width=5)
p4.line(fit_wave, fit_flux, line_color=ORANGE, line_width=5)
leg_blue = legend_proxy(p4, "#9dbcd9", 6)
leg4 = Legend(items=[LegendItem(label="Draws from blue-side error covariance", renderers=[leg_blue])])
style_legend(leg4, 7)
p4.add_layout(leg4)

layout = column(p1, p2, p3, p4, spacing=0)
open("out.html", "w").write(file_html(layout, INLINE))
